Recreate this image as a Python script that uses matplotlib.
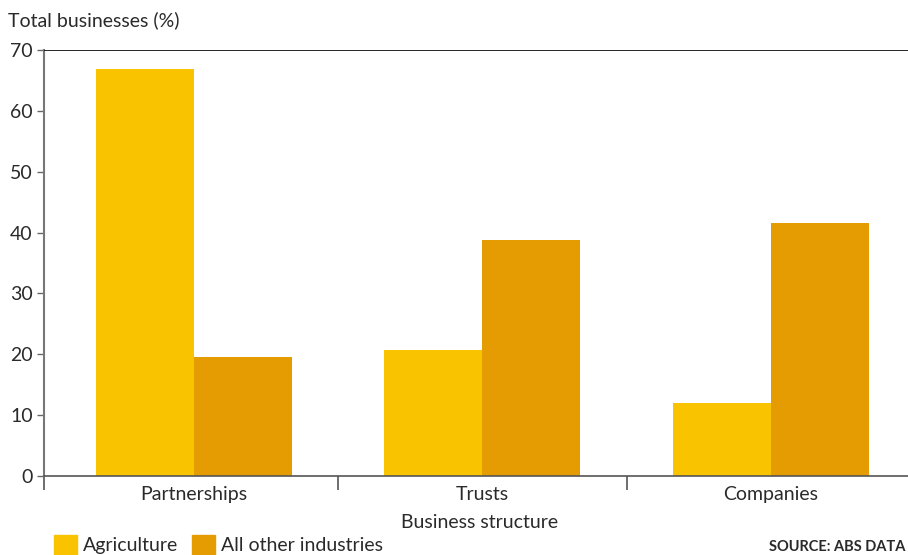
import numpy as np
import matplotlib
matplotlib.use('Agg')
from matplotlib import pyplot as plt
from matplotlib.patches import Patch

plt.rcParams['font.family'] = ['Lato', 'DejaVu Sans']

# data
categories = ['Partnerships', 'Trusts', 'Companies']
agriculture = [66.9, 20.7, 12.0]
other_industries = [19.6, 38.8, 41.6]
series_names = ['Agriculture', 'All other industries']

col_ag = '#FAC300'
col_other = '#E49C02'
txt = '#2a2a2a'

W, H = 908, 555
fig = plt.figure(figsize=(W / 100, H / 100), dpi=100)

# axes placed in pixel terms; right side runs off the figure like the original
left_px, right_px, top_px, bot_px = 44, 915, 50, 476
ax = fig.add_axes([left_px / W, 1 - bot_px / H, (right_px - left_px) / W, (bot_px - top_px) / H])

x = np.arange(len(categories))
bw = 0.34
ax.bar(x - bw / 2, agriculture, bw, color=col_ag, zorder=2)
ax.bar(x + bw / 2, other_industries, bw, color=col_other, zorder=2)

ax.set_xlim(-0.52, 2.5)
ax.set_ylim(0, 70)

# y axis
ax.set_yticks(np.arange(0, 71, 10))
ax.tick_params(axis='y', length=5, width=1, color='#666666', pad=3, labelsize=14, labelcolor=txt)
ax.axhline(70, color='black', lw=1.2, zorder=3)

# x axis: separators as major ticks, category names as minor ticks
ax.set_xticks([-0.52, 0.5, 1.5])
ax.set_xticklabels([])
ax.tick_params(axis='x', which='major', length=10, width=1.2, color='#555555', direction='out')
ax.set_xticks(x, minor=True)
ax.set_xticklabels(categories, minor=True)
ax.tick_params(axis='x', which='minor', length=0, pad=7, labelsize=14, labelcolor=txt)
ax.set_xlabel('Business structure', fontsize=14, color=txt, labelpad=8)

for s in ['top', 'right']:
    ax.spines[s].set_visible(False)
ax.spines['left'].set_color('#777777')
ax.spines['left'].set_linewidth(1.5)
ax.spines['bottom'].set_color('#555555')
ax.spines['bottom'].set_linewidth(1.2)
ax.spines['bottom'].set_zorder(3)

fig.text(8 / W, 1 - 20 / H, 'Total businesses (%)', fontsize=14, color=txt, va='center', ha='left')

handles = [Patch(color=col_ag), Patch(color=col_other)]
fig.legend(handles, series_names, loc='upper left', bbox_to_anchor=(50 / W, 1 - 531 / H),
           ncol=2, frameon=False, fontsize=14, handlelength=1.2, handleheight=1.2,
           handletextpad=0.3, columnspacing=0.7, borderaxespad=0, borderpad=0.2, labelcolor=txt)

fig.text(905 / W, 1 - 547 / H, 'SOURCE: ABS DATA', fontsize=10.5, color=txt,
         fontweight='bold', va='center', ha='right')

fig.savefig('out.png', dpi=100)
